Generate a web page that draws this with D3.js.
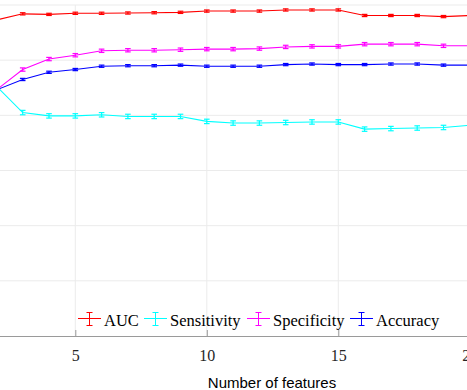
<!DOCTYPE html>
<html>
<head>
<meta charset="utf-8">
<script src="https://cdn.jsdelivr.net/npm/d3@7/dist/d3.min.js"></script>
<style>
html,body{margin:0;padding:0;background:#fff;}
svg{display:block;}
</style>
</head>
<body>
<svg id="chart" width="467" height="390"></svg>
<script>
const features = [2,3,4,5,6,7,8,9,10,11,12,13,14,15,16,17,18,19,20];
const auc = [0.973,0.984,0.983,0.985,0.985,0.9855,0.986,0.9867,0.989,0.989,0.989,0.991,0.991,0.991,0.981,0.981,0.981,0.979,0.981];
const sensitivity = [0.853,0.805,0.799,0.799,0.801,0.798,0.798,0.798,0.789,0.786,0.786,0.787,0.788,0.788,0.775,0.776,0.777,0.778,0.782];
const specificity = [0.846,0.883,0.902,0.909,0.917,0.918,0.918,0.919,0.920,0.920,0.921,0.924,0.925,0.925,0.929,0.929,0.929,0.926,0.926];
const accuracy = [0.846,0.865,0.878,0.883,0.889,0.890,0.890,0.891,0.889,0.889,0.889,0.892,0.893,0.892,0.892,0.893,0.893,0.891,0.891];
const aucErr = [0.002,0.002,0.002,0.002,0.002,0.002,0.002,0.002,0.002,0.002,0.002,0.002,0.002,0.002,0.002,0.002,0.002,0.002,0.002];
const sensErr = [0.004,0.004,0.004,0.004,0.004,0.004,0.004,0.004,0.004,0.004,0.004,0.004,0.004,0.004,0.004,0.004,0.004,0.004,0.004];
const specErr = [0.003,0.003,0.003,0.003,0.003,0.003,0.003,0.003,0.003,0.003,0.003,0.003,0.003,0.003,0.003,0.003,0.003,0.003,0.003];
const accErr = [0.002,0.002,0.002,0.002,0.002,0.002,0.002,0.002,0.002,0.002,0.002,0.002,0.002,0.002,0.002,0.002,0.002,0.002,0.002];
const seriesNames = ["AUC","Sensitivity","Specificity","Accuracy"];
const seriesColors = ["#ff0000","#00ffff","#ff00ff","#0000ff"];
const xTicks = [5,10,15,20];
const yTicks = [0.4,0.5,0.6,0.7,0.8,0.9,1.0];
const xLabel = "Number of features";

const seriesValues = [auc, sensitivity, specificity, accuracy];
const seriesErrors = [aucErr, sensErr, specErr, accErr];

const svg = d3.select("#chart");
const x = d3.scaleLinear().domain([5,15]).range([75.3,338.3]);
const y = d3.scaleLinear().domain([0.4,1.0]).range([336,5]);

// grid
const grid = svg.append("g");
grid.selectAll("line.h").data(yTicks.filter(t=>t>0.4)).enter().append("line")
  .attr("x1",-10).attr("x2",480)
  .attr("y1",d=>y(d)).attr("y2",d=>y(d))
  .attr("stroke","#ebebeb").attr("stroke-width",1);
grid.selectAll("line.v").data(xTicks).enter().append("line")
  .attr("x1",d=>x(d)).attr("x2",d=>x(d))
  .attr("y1",y(1.0)).attr("y2",y(0.4))
  .attr("stroke","#ebebeb").attr("stroke-width",1);

// x axis
const xAxis = d3.axisBottom(x).tickValues(xTicks).tickSizeInner(-6).tickSizeOuter(0).tickPadding(14);
const gx = svg.append("g").attr("transform",`translate(0,${y(0.4)})`).call(xAxis);
gx.select(".domain").attr("stroke","#9a9a9a").attr("d",`M-10,0.5H480`);
gx.selectAll(".tick line").attr("stroke","#9a9a9a");
gx.selectAll(".tick text").attr("font-family","'Liberation Serif','Times New Roman',serif")
  .attr("font-size","16px").attr("fill","#262626");

svg.append("text").attr("x",272).attr("y",387.5).attr("text-anchor","middle")
  .attr("font-family","'Liberation Sans',Arial,sans-serif").attr("font-size","15px")
  .attr("fill","#000").text(xLabel);

// series
const line = d3.line().x(d=>x(d[0])).y(d=>y(d[1]));
seriesValues.forEach((vals,i)=>{
  const col = seriesColors[i];
  const pts = features.map((f,j)=>[f,vals[j],seriesErrors[i][j]]);
  const g = svg.append("g");
  g.append("path").datum(pts).attr("d",line).attr("fill","none")
    .attr("stroke",col).attr("stroke-width",1.1);
  const eb = g.selectAll("g.eb").data(pts).enter().append("g");
  eb.append("line").attr("x1",d=>x(d[0])).attr("x2",d=>x(d[0]))
    .attr("y1",d=>y(d[1]-d[2])).attr("y2",d=>y(d[1]+d[2]))
    .attr("stroke",col).attr("stroke-width",1.2);
  [-1,1].forEach(s=>{
    eb.append("line").attr("x1",d=>x(d[0])-2.8).attr("x2",d=>x(d[0])+2.8)
      .attr("y1",d=>y(d[1]+s*d[2])).attr("y2",d=>y(d[1]+s*d[2]))
      .attr("stroke",col).attr("stroke-width",1.2);
  });
});

// legend
const legendX = [78,144,247,350];
const legend = svg.append("g");
seriesNames.forEach((name,i)=>{
  const col = seriesColors[i];
  const lx = legendX[i], ly = 318.5;
  legend.append("line").attr("x1",lx).attr("x2",lx+23).attr("y1",ly).attr("y2",ly)
    .attr("stroke",col).attr("stroke-width",1);
  const cx = lx+11.5;
  legend.append("line").attr("x1",cx).attr("x2",cx).attr("y1",ly-6).attr("y2",ly+7)
    .attr("stroke",col).attr("stroke-width",1);
  legend.append("line").attr("x1",cx-3).attr("x2",cx+3).attr("y1",ly-6).attr("y2",ly-6)
    .attr("stroke",col).attr("stroke-width",1);
  legend.append("line").attr("x1",cx-3).attr("x2",cx+3).attr("y1",ly+7).attr("y2",ly+7)
    .attr("stroke",col).attr("stroke-width",1);
  legend.append("text").attr("x",lx+26).attr("y",326)
    .attr("font-family","'Liberation Serif','Times New Roman',serif").attr("font-size","16.5px")
    .attr("fill","#000").text(name);
});
</script>
</body>
</html>
